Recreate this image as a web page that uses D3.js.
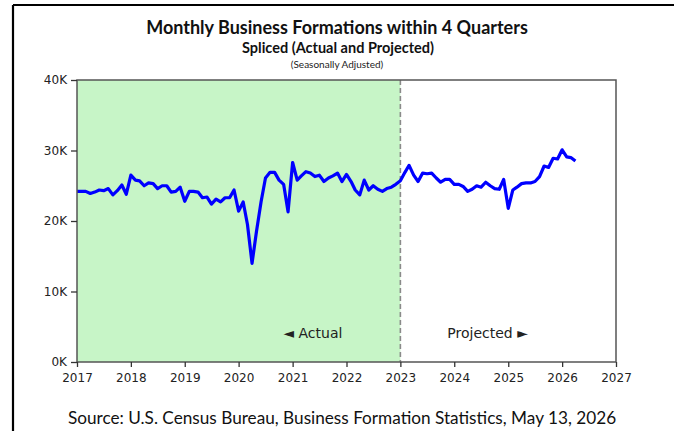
<!DOCTYPE html>
<html>
<head>
<meta charset="utf-8">
<script src="https://cdn.jsdelivr.net/npm/d3@7"></script>
<style>
  body { margin: 0; background: #fff; }
</style>
</head>
<body>
<svg id="chart" width="674" height="431"></svg>
<script>
// monthly values (thousands), starting Jan 2017
var startMonth = new Date(2017, 0, 1);
var splitDate = new Date(2023, 0, 1);
var values = [
  24.2, 24.2, 24.2, 23.9, 24.1, 24.4, 24.3, 24.6, 23.7, 24.3, 25.1, 23.8,  // 2017
  26.5, 25.8, 25.7, 25.0, 25.4, 25.3, 24.6, 25.0, 25.0, 24.1, 24.2, 24.8,  // 2018
  22.8, 24.2, 24.2, 24.1, 23.3, 23.4, 22.4, 23.1, 22.7, 23.3, 23.3, 24.4,  // 2019
  21.4, 22.7, 19.5, 14.0, 18.5, 22.7, 26.1, 26.9, 26.9, 25.8, 25.2, 21.3,  // 2020
  28.3, 25.8, 26.4, 27.0, 26.8, 26.3, 26.5, 25.6, 26.1, 26.4, 26.8, 25.6,  // 2021
  26.6, 25.6, 24.4, 23.7, 25.8, 24.4, 25.0, 24.5, 24.2, 24.6, 24.8, 25.2,  // 2022
  25.7, 26.9, 27.9, 26.5, 25.6, 26.8, 26.7, 26.8, 26.1, 25.5, 25.9, 25.9,  // 2023
  25.2, 25.2, 24.9, 24.2, 24.5, 25.0, 24.8, 25.5, 25.0, 24.6, 24.5, 25.9,  // 2024
  21.8, 24.4, 24.8, 25.3, 25.4, 25.4, 25.6, 26.3, 27.8, 27.6, 28.9, 28.8,  // 2025
  30.1, 29.1, 29.0, 28.5                                                    // 2026
];
var yearTicks = [2017, 2018, 2019, 2020, 2021, 2022, 2023, 2024, 2025, 2026, 2027];
var yTicks = [0, 10, 20, 30, 40];

var titleText = "Monthly Business Formations within 4 Quarters";
var subtitleText = "Spliced (Actual and Projected)";
var noteText = "(Seasonally Adjusted)";
var sourceText = "Source: U.S. Census Bureau, Business Formation Statistics, May 13, 2026";

var data = values.map(function(v, i) {
  return { date: d3.timeMonth.offset(startMonth, i), v: v };
});

var svg = d3.select("#chart");
var plotLeft = 77, plotRight = 616, plotTop = 80, plotBottom = 362;

var xScale = d3.scaleTime()
  .domain([new Date(yearTicks[0], 0, 1), new Date(yearTicks[yearTicks.length - 1], 0, 1)])
  .range([plotLeft, plotRight]);
var yScale = d3.scaleLinear().domain([0, 40]).range([plotBottom, plotTop]);

// outer frame (top and left only)
svg.append("line").attr("x1", 13).attr("x2", 674).attr("y1", 5).attr("y2", 5)
  .attr("stroke", "#000").attr("stroke-width", 2.2);
svg.append("line").attr("x1", 13).attr("x2", 13).attr("y1", 5).attr("y2", 431)
  .attr("stroke", "#000").attr("stroke-width", 2.2);

// actual region shading
svg.append("rect")
  .attr("x", xScale.range()[0])
  .attr("y", yScale(40))
  .attr("width", xScale(splitDate) - xScale.range()[0])
  .attr("height", yScale(0) - yScale(40))
  .attr("fill", "#c7f5c7");

svg.append("line")
  .attr("x1", xScale(splitDate)).attr("x2", xScale(splitDate))
  .attr("y1", yScale(40)).attr("y2", yScale(0))
  .attr("stroke", "#8a8a8a").attr("stroke-width", 1.6)
  .attr("stroke-dasharray", "5,3");

var line = d3.line()
  .x(function(d) { return xScale(d.date); })
  .y(function(d) { return yScale(d.v); });

svg.append("path")
  .datum(data)
  .attr("fill", "none")
  .attr("stroke", "#0000ff")
  .attr("stroke-width", 3.2)
  .attr("stroke-linejoin", "round")
  .attr("d", line);

// frame of plot area
svg.append("rect")
  .attr("x", plotLeft).attr("y", plotTop)
  .attr("width", plotRight - plotLeft).attr("height", plotBottom - plotTop)
  .attr("fill", "none").attr("stroke", "#555").attr("stroke-width", 1.5);

var xAxis = svg.append("g")
  .attr("transform", "translate(0," + plotBottom + ")")
  .call(d3.axisBottom(xScale)
    .tickValues(yearTicks.map(function(y) { return new Date(y, 0, 1); }))
    .tickFormat(d3.timeFormat("%Y"))
    .tickSize(5).tickPadding(6));
var yAxis = svg.append("g")
  .attr("transform", "translate(" + plotLeft + ",0)")
  .call(d3.axisLeft(yScale)
    .tickValues(yTicks)
    .tickFormat(function(d) { return d + "K"; })
    .tickSize(6).tickPadding(4));

[xAxis, yAxis].forEach(function(g) {
  g.select(".domain").remove();
  g.selectAll(".tick line").attr("stroke", "#333").attr("stroke-width", 1.3);
  g.selectAll(".tick text")
    .attr("font-family", "DejaVu Sans")
    .attr("font-size", "12px")
    .attr("fill", "#222");
});

svg.append("text")
  .attr("x", 337).attr("y", 34)
  .attr("text-anchor", "middle")
  .attr("font-family", "Lato").attr("font-weight", "bold")
  .attr("font-size", "18px").attr("fill", "#111")
  .text(titleText);
svg.append("text")
  .attr("x", 338).attr("y", 53)
  .attr("text-anchor", "middle")
  .attr("font-family", "Lato").attr("font-weight", "bold")
  .attr("font-size", "14.5px").attr("fill", "#111")
  .text(subtitleText);
svg.append("text")
  .attr("x", 337).attr("y", 68)
  .attr("text-anchor", "middle")
  .attr("font-family", "Lato")
  .attr("font-size", "10px").attr("fill", "#222")
  .text(noteText);

svg.append("text")
  .attr("x", xScale(splitDate) - 58).attr("y", 338)
  .attr("text-anchor", "end")
  .attr("font-family", "DejaVu Sans")
  .attr("font-size", "14px").attr("fill", "#222")
  .text("\u25C4 Actual");
svg.append("text")
  .attr("x", xScale(splitDate) + 47).attr("y", 338)
  .attr("text-anchor", "start")
  .attr("font-family", "DejaVu Sans")
  .attr("font-size", "14px").attr("fill", "#222")
  .text("Projected \u25BA");

svg.append("text")
  .attr("x", 342).attr("y", 424)
  .attr("text-anchor", "middle")
  .attr("font-family", "Lato")
  .attr("font-size", "17.2px").attr("fill", "#111")
  .text(sourceText);
</script>
</body>
</html>
